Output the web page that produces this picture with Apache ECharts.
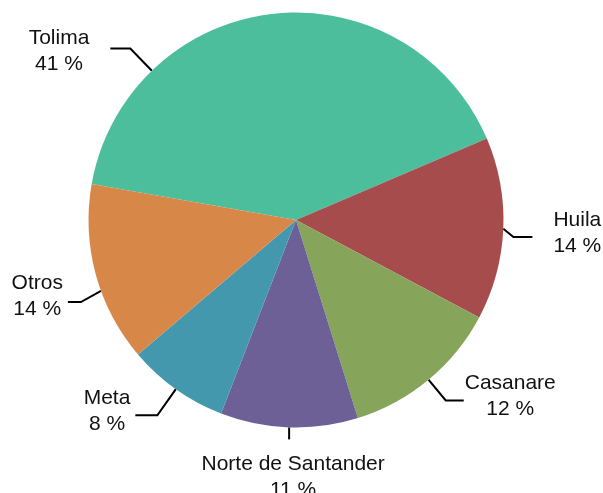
<!DOCTYPE html>
<html>
<head>
<meta charset="utf-8">
<script src="https://cdn.jsdelivr.net/npm/echarts@6/dist/echarts.min.js"></script>
<style>
  html, body { margin: 0; padding: 0; background: #fff; }
  #chart { width: 603px; height: 493px; }
</style>
</head>
<body>
<div id="chart"></div>
<script>
// data
const categories = ['Tolima', 'Huila', 'Casanare', 'Norte de Santander', 'Meta', 'Otros'];
const percents = [40.8, 14.2, 12.4, 10.7, 7.9, 14.0];
const sliceColors = ['#4DBE9C', '#A64C4C', '#86A55B', '#6D6096', '#4498AD', '#D78849'];

// pie geometry
const CX = 296, CY = 220, R = 207.5, START = 170;
const total = percents.reduce(function (a, b) { return a + b; }, 0);

// label line tweaks (len = radial segment, len2 = horizontal segment, gap = line end to text)
const labelTweaks = {
    0: { angle: 134, len: 31, len2: 20, gap: 21, dy: 3 },
    1: { bendAngle: -39, len: 13, len2: 19, gap: 21 },
    2: { len: 27, len2: 18, gap: 1 },
    3: { below: true, dx: 4 },
    4: { len: 32, len2: 22, gap: 5 },
    5: { angle: -160, bendAngle: -151, len: 23, len2: 13, gap: 5, dy: -6 }
};

const midAngle = function (i) {
    let a = START;
    for (let j = 0; j < i; j++) {
        a -= percents[j] / total * 360;
    }
    return a - percents[i] / total * 180;
};

const rad = function (d) { return d * Math.PI / 180; };

const chart = echarts.init(document.getElementById('chart'));

chart.setOption({
    animation: false,
    color: sliceColors,
    series: [{
        type: 'pie',
        center: [CX, CY],
        radius: R,
        startAngle: START,
        clockwise: true,
        avoidLabelOverlap: false,
        data: categories.map(function (name, i) {
            return { name: name, value: percents[i] };
        }),
        itemStyle: { borderWidth: 0 },
        emphasis: { disabled: true },
        label: {
            show: true,
            position: 'outside',
            formatter: function (p) {
                return p.name + '\n' + Math.round(p.value) + ' %';
            },
            fontFamily: 'Liberation Sans, Arial, sans-serif',
            fontSize: 21,
            lineHeight: 26,
            color: '#111'
        },
        labelLine: {
            show: true,
            length: 20,
            length2: 20,
            lineStyle: { color: '#000', width: 2 }
        },
        labelLayout: function (params) {
            const i = params.dataIndex;
            const t = labelTweaks[i] || {};
            const a = rad(t.angle !== undefined ? t.angle : midAngle(i));
            const p0 = [CX + R * Math.cos(a), CY - R * Math.sin(a)];
            const w = params.labelRect.width;
            const h = params.labelRect.height;
            if (t.below) {
                const q = [p0[0], p0[1] + 12];
                return {
                    x: q[0] + (t.dx || 0), y: q[1] + 12 + h / 2,
                    align: 'center', verticalAlign: 'middle',
                    labelLinePoints: [p0, q, q]
                };
            }
            const ba = t.bendAngle !== undefined ? rad(t.bendAngle) : a;
            const len = t.len !== undefined ? t.len : 25;
            const p1 = [p0[0] + len * Math.cos(ba), p0[1] - len * Math.sin(ba)];
            const side = Math.cos(a) >= 0 ? 1 : -1;
            const p2 = [p1[0] + side * (t.len2 !== undefined ? t.len2 : 20), p1[1]];
            const gap = t.gap !== undefined ? t.gap : 5;
            return {
                x: p2[0] + side * (gap + w / 2),
                y: p2[1] + (t.dy !== undefined ? t.dy : -4),
                align: 'center', verticalAlign: 'middle',
                labelLinePoints: [p0, p1, p2]
            };
        }
    }]
});
</script>
</body>
</html>
